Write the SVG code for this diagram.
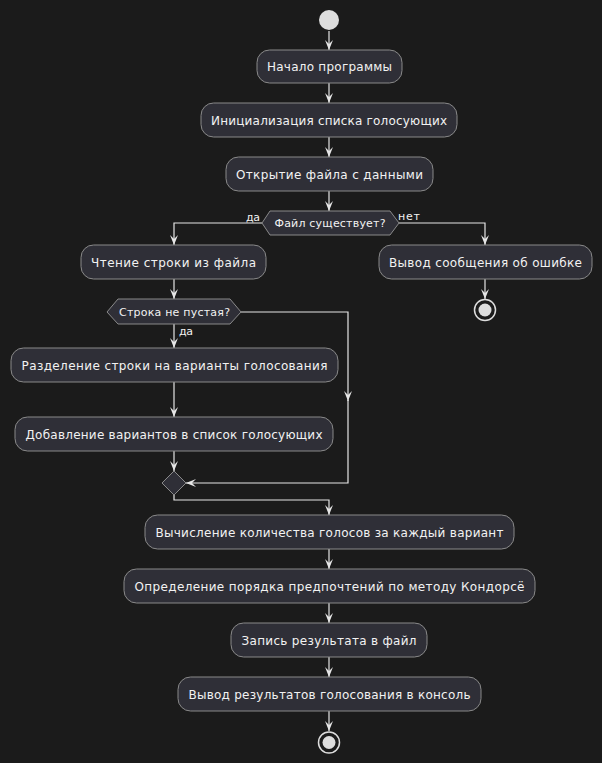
<svg xmlns="http://www.w3.org/2000/svg" width="602" height="763" viewBox="0 0 602 763">
<defs>
<style>
.n rect{fill:#2f2f37;stroke:#8a8a8a;stroke-width:1}
.n text{fill:#f2f2f2;font-family:"DejaVu Sans",sans-serif;font-size:12px;text-anchor:middle}
.d polygon{fill:#2f2f37;stroke:#8a8a8a;stroke-width:1}
.d text{fill:#f2f2f2;font-family:"DejaVu Sans",sans-serif;font-size:11px;text-anchor:middle}
.e path{fill:none;stroke:#e6e6e6;stroke-width:1.2}
.lbl{fill:#f2f2f2;font-family:"DejaVu Sans",sans-serif;font-size:11px}
</style>
<marker id="ah" viewBox="0 0 10 10" refX="10" refY="5" markerWidth="10" markerHeight="10" markerUnits="userSpaceOnUse" orient="auto">
<path d="M0,1 L10,5 L0,9 L4,5 Z" fill="#e6e6e6"/>
</marker>
</defs>
<rect width="602" height="763" fill="#1b1b1b"/>

<g id="edges" class="e">
<path d="M329,31 V50" marker-end="url(#ah)"/>
<path d="M329,83 V103" marker-end="url(#ah)"/>
<path d="M329,137 V157" marker-end="url(#ah)"/>
<path d="M329,191 V211" marker-end="url(#ah)"/>
<path d="M262,223 H174 V245" marker-end="url(#ah)"/>
<path d="M399,223 H485 V245" marker-end="url(#ah)"/>
<path d="M485,279 V299" marker-end="url(#ah)"/>
<path d="M174,279 V299" marker-end="url(#ah)"/>
<path d="M174,324 V348" marker-end="url(#ah)"/>
<path d="M174,382 V417" marker-end="url(#ah)"/>
<path d="M174,451 V471" marker-end="url(#ah)"/>
<path d="M241,312 H348 V401" marker-end="url(#ah)"/>
<path d="M348,400 V483 H186" marker-end="url(#ah)"/>
<path d="M174,495 V500 H329 V515" marker-end="url(#ah)"/>
<path d="M329,549 V569" marker-end="url(#ah)"/>
<path d="M329,603 V623" marker-end="url(#ah)"/>
<path d="M329,657 V677" marker-end="url(#ah)"/>
<path d="M329,711 V731" marker-end="url(#ah)"/>
<text class="lbl" x="246" y="221" textLength="14" lengthAdjust="spacing">да</text>
<text class="lbl" x="398" y="220" textLength="22" lengthAdjust="spacing">нет</text>
<text class="lbl" x="179" y="335" textLength="14" lengthAdjust="spacing">да</text>
</g>

<g id="start"><circle cx="329" cy="20" r="10" fill="#dddddd"/></g>

<g id="n1" class="n"><rect x="257" y="50" width="145" height="33" rx="12.5"/><text x="329.5" y="71" textLength="125" lengthAdjust="spacing">Начало программы</text></g>
<g id="n2" class="n"><rect x="201" y="103" width="256" height="34" rx="12.5"/><text x="329" y="124.5" textLength="236" lengthAdjust="spacing">Инициализация списка голосующих</text></g>
<g id="n3" class="n"><rect x="226" y="157" width="207" height="34" rx="12.5"/><text x="329.5" y="178.5" textLength="187" lengthAdjust="spacing">Открытие файла с данными</text></g>

<g id="d1" class="d"><polygon points="262,223 270,211 390,211 399,223 390,235 270,235"/><text x="330" y="227" textLength="111" lengthAdjust="spacing">Файл существует?</text></g>

<g id="n4" class="n"><rect x="81" y="245" width="185" height="34" rx="12.5"/><text x="173.5" y="266.5" textLength="165" lengthAdjust="spacing">Чтение строки из файла</text></g>
<g id="n5" class="n"><rect x="379" y="245" width="213" height="34" rx="12.5"/><text x="485.5" y="266.5" textLength="193" lengthAdjust="spacing">Вывод сообщения об ошибке</text></g>

<g id="stop1"><circle cx="485" cy="310" r="10.5" fill="none" stroke="#dddddd" stroke-width="1.5"/><circle cx="485" cy="310" r="6.5" fill="#dddddd"/></g>

<g id="d2" class="d"><polygon points="107,312 118,299 230,299 241,312 230,324 118,324"/><text x="174.5" y="316" textLength="111" lengthAdjust="spacing">Строка не пустая?</text></g>

<g id="n6" class="n"><rect x="11" y="348" width="327" height="34" rx="12.5"/><text x="174.5" y="369.5" textLength="306" lengthAdjust="spacing">Разделение строки на варианты голосования</text></g>
<g id="n7" class="n"><rect x="15" y="417" width="318" height="34" rx="12.5"/><text x="174" y="438.5" textLength="297" lengthAdjust="spacing">Добавление вариантов в список голосующих</text></g>

<g id="merge" class="d"><polygon points="174,471 186,483 174,495 162,483"/></g>

<g id="n8" class="n"><rect x="145" y="515" width="369" height="34" rx="12.5"/><text x="329.5" y="536.5" textLength="348" lengthAdjust="spacing">Вычисление количества голосов за каждый вариант</text></g>
<g id="n9" class="n"><rect x="124" y="569" width="411" height="34" rx="12.5"/><text x="329.5" y="590.5" textLength="390" lengthAdjust="spacing">Определение порядка предпочтений по методу Кондорсё</text></g>
<g id="n10" class="n"><rect x="231" y="623" width="196" height="34" rx="12.5"/><text x="329" y="644.5" textLength="175" lengthAdjust="spacing">Запись результата в файл</text></g>
<g id="n11" class="n"><rect x="178" y="677" width="303" height="34" rx="12.5"/><text x="329.5" y="698.5" textLength="282" lengthAdjust="spacing">Вывод результатов голосования в консоль</text></g>

<g id="stop2"><circle cx="329" cy="742.5" r="10.5" fill="none" stroke="#dddddd" stroke-width="1.5"/><circle cx="329" cy="742.5" r="6.5" fill="#dddddd"/></g>
</svg>
